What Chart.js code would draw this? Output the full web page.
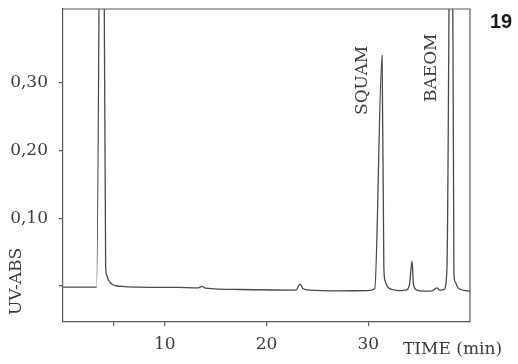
<!DOCTYPE html>
<html>
<head>
<meta charset="utf-8">
<script src="https://cdn.jsdelivr.net/npm/chart.js@4/dist/chart.umd.min.js"></script>
<style>
  html, body { margin: 0; padding: 0; background: #ffffff; }
  #wrap { width: 518px; height: 364px; }
</style>
</head>
<body>
<div id="wrap"><canvas id="chromatogram" width="518" height="364"></canvas></div>
<script>
// Retention time (min) of each trace sample
const timeMin = [
  0, 3.30, 3.84, 4.19, 4.30, 4.45, 4.65, 4.90, 5.20, 6.06, 7.54, 11.3,
  13.3, 13.65, 14.0, 17.4, 22.9, 23.3, 23.6, 24.3, 27.0, 30.0,
  30.64, 31.36, 31.53, 31.65, 31.85, 32.36, 33.15, 33.7, 34.05, 34.3, 34.45,
  34.8, 35.5, 36.3, 36.75, 37.0, 37.45, 37.73, 38.18, 38.42, 38.55, 38.80,
  39.06, 39.56, 40.0
];
// UV absorbance at each sample (solvent front and BAEOM run off scale)
const uvAbs = [
  -0.0015, -0.0015, 1.0, 0.030, 0.016, 0.009, 0.005, 0.002, 0.0005, -0.0007, -0.0015, -0.002,
  -0.0025, -0.0005, -0.003, -0.005, -0.006, 0.003, -0.004, -0.006, -0.007, -0.0068,
  -0.004, 0.340, 0.030, 0.008, 0.0, -0.005, -0.0067, -0.006, 0.002, 0.037, 0.002,
  -0.006, -0.0074, -0.007, -0.0025, -0.006, -0.005, 0.024, 0.87, 0.018, 0.006, -0.002,
  -0.005, -0.0067, -0.0075
];
// Axis ticks
const xTickValues = [5, 10, 20, 30];
const xTickLabels = [10, 20, 30];
const yTickValues = [0, 0.1, 0.2, 0.3];
const yTickLabels = [0.1, 0.2, 0.3];
// Named peaks
const peakNames = ['SQUAM', 'BAEOM'];
const peakTimes = [31.36, 38.18];
const figureNumber = '19';

const INK = '#4a4a4a';
const TEXT = '#3c3c3c';
const SERIF = '"DejaVu Serif", "Liberation Serif", serif';

const points = timeMin.map((t, i) => ({ x: t, y: uvAbs[i] }));

const annotations = {
  id: 'annotations',
  afterDraw(chart) {
    const { ctx, chartArea: a, scales } = chart;
    ctx.save();
    // closing frame: top and right edges
    ctx.strokeStyle = '#5a5a5a';
    ctx.lineWidth = 1.2;
    ctx.beginPath();
    ctx.moveTo(a.left, a.top);
    ctx.lineTo(a.right, a.top);
    ctx.lineTo(a.right, a.bottom);
    ctx.stroke();

    ctx.fillStyle = TEXT;
    // peak names, written vertically to the left of each peak
    ctx.font = '17px ' + SERIF;
    ctx.textBaseline = 'middle';
    ctx.textAlign = 'left';
    const bottoms = [115, 102];
    peakNames.forEach((name, i) => {
      const px = scales.x.getPixelForValue(peakTimes[i]) - 20;
      ctx.save();
      ctx.translate(px, bottoms[i]);
      ctx.rotate(-Math.PI / 2);
      ctx.fillText(name, 0, 0);
      ctx.restore();
    });

    // y axis title
    ctx.save();
    ctx.font = '17px ' + SERIF;
    ctx.translate(17, 315);
    ctx.rotate(-Math.PI / 2);
    ctx.textAlign = 'left';
    ctx.fillText('UV-ABS', 0, 0);
    ctx.restore();

    // x axis title
    ctx.font = '17px ' + SERIF;
    ctx.textAlign = 'left';
    ctx.textBaseline = 'middle';
    ctx.fillText('TIME (min)', 403, 350);

    // figure number
    ctx.font = 'bold 20px "Liberation Sans", Arial, sans-serif';
    ctx.textAlign = 'center';
    ctx.fillStyle = '#1a1a1a';
    ctx.fillText(figureNumber, 501, 22);
    ctx.restore();
  }
};

// keep the plot frame fixed: no extra room reserved for end labels
const noEdgePadding = s => {
  s.paddingTop = 0; s.paddingBottom = 0; s.paddingLeft = 0; s.paddingRight = 0;
};

new Chart(document.getElementById('chromatogram'), {
  type: 'line',
  data: {
    datasets: [{
      data: points,
      borderColor: INK,
      borderWidth: 1.3,
      pointRadius: 0,
      fill: false,
      cubicInterpolationMode: 'monotone'
    }]
  },
  options: {
    responsive: false,
    animation: false,
    devicePixelRatio: 1,
    layout: { padding: { left: 0, top: 9, right: 48, bottom: 0 } },
    plugins: { legend: { display: false }, tooltip: { enabled: false } },
    scales: {
      x: {
        type: 'linear',
        min: 0,
        max: 40,
        afterBuildTicks: s => { s.ticks = xTickValues.map(v => ({ value: v })); },
        afterFit: s => { s.height = 42; noEdgePadding(s); },
        border: { color: '#5a5a5a', width: 1.2 },
        grid: { drawOnChartArea: false, tickLength: 4, color: '#5a5a5a', lineWidth: 1.2 },
        ticks: {
          autoSkip: false,
          maxRotation: 0,
          padding: 8,
          color: TEXT,
          font: { family: SERIF, size: 17 },
          callback: v => xTickLabels.includes(v) ? String(v) : ''
        }
      },
      y: {
        type: 'linear',
        min: -0.053,
        max: 0.409,
        afterBuildTicks: s => { s.ticks = yTickValues.map(v => ({ value: v })); },
        afterFit: s => { s.width = 63; noEdgePadding(s); },
        border: { color: '#5a5a5a', width: 1.2 },
        grid: { drawOnChartArea: false, tickLength: 4, color: '#5a5a5a', lineWidth: 1.2 },
        ticks: {
          padding: 11,
          color: TEXT,
          font: { family: SERIF, size: 17 },
          callback: v => yTickLabels.some(l => Math.abs(l - v) < 1e-9) ? v.toFixed(2).replace('.', ',') : ''
        }
      }
    }
  },
  plugins: [annotations]
});
</script>
</body>
</html>
